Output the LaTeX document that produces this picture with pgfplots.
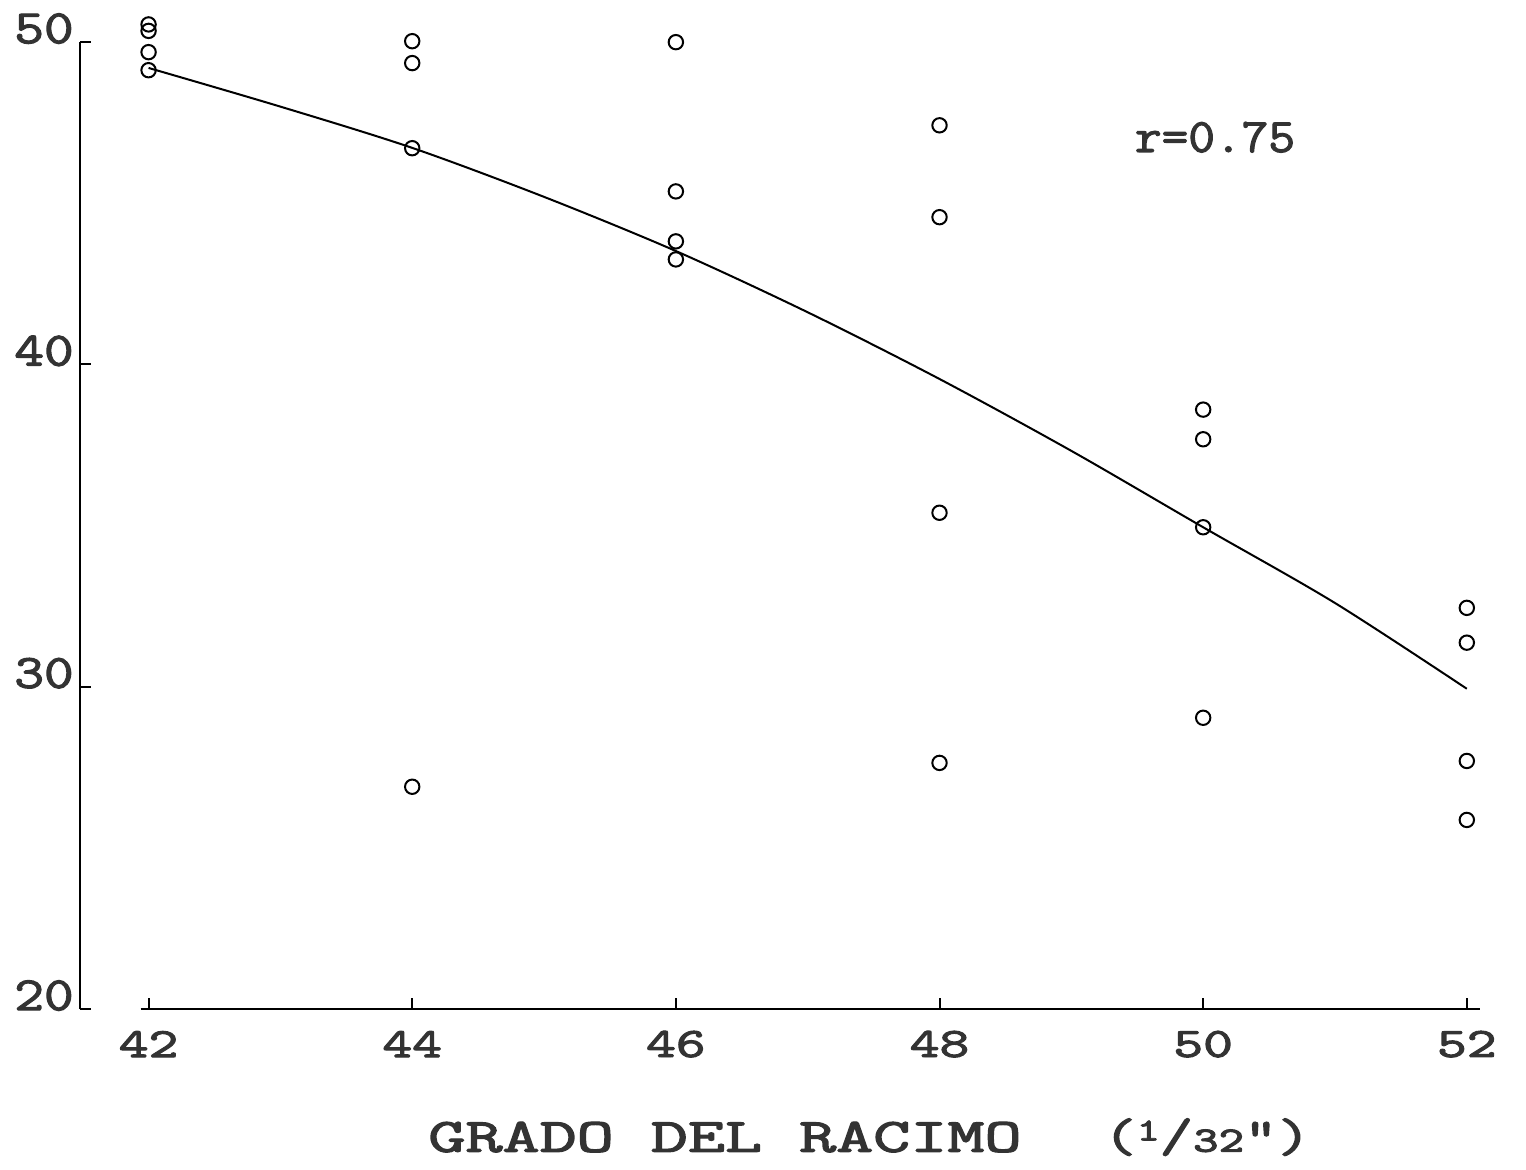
\documentclass[border=0pt]{standalone}
\usepackage{pgfplots}
\pgfplotsset{compat=1.18}
\usepackage{fontspec}
\newfontfamily\tw{Latin Modern Mono}[FakeBold=2.2]

% wide typewriter lettering
\newcommand{\wide}[2]{\scalebox{#1}[1]{#2}}

\pgfplotstableread{
x y
42 50.55
42 50.35
42 49.69
42 49.13
44 50.03
44 49.35
44 46.71
44 26.90
46 50.00
46 45.37
46 43.82
46 43.26
48 47.42
48 44.57
48 35.40
48 27.64
50 38.60
50 37.68
50 34.95
50 29.04
52 32.45
52 31.37
52 27.70
52 25.87
}\datapts

\pgfplotstableread{
x y
42 49.20
43 48.00
44 46.72
45 45.20
46 43.52
47 41.62
48 39.55
49 37.32
50 34.95
51 32.60
52 29.94
}\fitcurve

\begin{document}
\begin{tikzpicture}
\begin{axis}[
  scale only axis,
  width=350pt, height=241.75pt,
  xmin=41.48, xmax=52.1,
  ymin=20, ymax=50,
  axis x line=bottom, axis y line=left,
  axis line style={draw=none},
  tick align=inside,
  major tick length=2.8pt,
  tick style={black, line width=0.5pt},
  xtick={42,44,46,48,50,52},
  xticklabels={\wide{1.35}{42},\wide{1.35}{44},\wide{1.35}{46},\wide{1.35}{48},\wide{1.35}{50},\wide{1.35}{52}},
  ytick={20,30,40,50},
  yticklabels={\wide{1.2}{20},\wide{1.2}{30},\wide{1.2}{40},\wide{1.2}{50}},
  xticklabel style={font=\tw\fontsize{10.5}{12}\selectfont, text=black!80, anchor=center, yshift=-8.75pt},
  yticklabel style={font=\tw\fontsize{12}{14}\selectfont, text=black!80, anchor=center, xshift=-9pt, yshift=3.4pt},
  clip=false,
]
% page extent
\path (axis cs:40.873,51.303) rectangle (axis cs:52.449,15.036);

% axis lines
\draw[black, line width=0.55pt] (axis cs:41.48,20) -- (axis cs:41.48,50);
\draw[black, line width=0.55pt] (axis cs:41.94,20) -- (axis cs:52.1,20);

% fitted curve
\addplot[black, line width=0.5pt, smooth, no marks] table[x=x, y=y] {\fitcurve};

% observations
\addplot[only marks, mark=o, mark size=1.8pt,
  mark options={draw=black, fill=white, line width=0.5pt}] table[x=x, y=y] {\datapts};

\node[font=\tw\fontsize{12}{14}\selectfont, text=black!80] at (axis cs:50.09,47.05) {\wide{1.08}{r=0.75}};

\node[font=\tw\fontsize{12}{14}\selectfont, text=black!80] at (axis cs:46.373,16.03) {\wide{1.5}{GRADO DEL RACIMO}};
\node[font=\tw\fontsize{12}{14}\selectfont, text=black!80] at (axis cs:50.03,16.03) {\wide{1.35}{(\raisebox{0.55ex}{\fontsize{8}{9}\selectfont 1}/{\fontsize{9}{10}\selectfont 32}")}};
\end{axis}
\end{tikzpicture}
\end{document}
